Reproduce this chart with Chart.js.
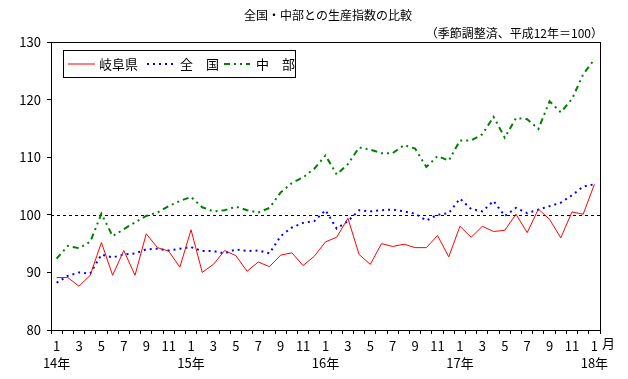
<!DOCTYPE html>
<html><head><meta charset="utf-8">
<script src="https://cdn.jsdelivr.net/npm/chart.js@4/dist/chart.umd.min.js"></script>
<style>html,body{margin:0;padding:0;background:#fff}#wrap{width:628px;height:379px}</style>
</head><body><div id="wrap"><canvas id="c" width="628" height="379"></canvas></div>
<script>
const TITLE = '全国・中部との生産指数の比較';
const SUBTITLE = '（季節調整済、平成12年＝100）';
const months = [1,2,3,4,5,6,7,8,9,10,11,12,1,2,3,4,5,6,7,8,9,10,11,12,1,2,3,4,5,6,7,8,9,10,11,12,1,2,3,4,5,6,7,8,9,10,11,12,1];
const years = ['14年','15年','16年','17年','18年'];
const seriesNames = ['岐阜県','全　国','中　部'];
const gifu = [89.1,89.1,87.6,89.5,95.2,89.5,93.8,89.5,96.7,94.3,93.7,90.9,97.4,90.0,91.4,93.8,92.9,90.2,91.8,91.0,93.0,93.4,91.2,92.8,95.3,96.1,99.4,93.1,91.4,95.0,94.5,94.9,94.3,94.3,96.4,92.7,98.0,96.1,98.0,97.1,97.3,100.1,96.9,101.0,99.2,96.0,100.5,100.1,105.3];
const zenkoku = [88.2,89.4,90.0,89.8,93.1,92.6,93.1,93.3,94.0,94.1,93.8,94.1,94.4,93.7,93.7,93.3,94.0,93.7,93.8,93.3,96.3,97.8,98.6,98.9,100.8,97.6,98.9,100.8,100.6,100.8,100.9,100.6,100.2,99.0,100.0,100.3,102.8,101.0,100.6,102.4,99.8,101.2,100.3,100.9,101.5,102.1,103.4,104.9,105.3];
const chubu = [92.4,94.6,94.2,95.3,100.2,96.3,97.5,98.7,99.8,100.4,101.5,102.4,103.1,101.3,100.6,100.8,101.4,100.8,100.4,101.2,103.9,105.5,106.5,108.0,110.3,107.0,108.8,111.7,111.3,110.7,110.7,112.1,111.5,108.3,110.2,109.4,112.9,112.9,114.0,117.0,113.4,116.8,116.6,114.9,119.7,117.8,120.1,124.4,127.0];
const BASE = 100;
const yTicks = [80,90,100,110,120,130];

const FONT = '"Noto Sans CJK JP", "Noto Sans", sans-serif';
const labels = months.map((m,i)=>String(i));
let yearIdx = 0;
const yearAt = months.map(m => m===1 ? years[yearIdx++] : '');

const styles = [
  {color:'#ff0000', width:1, dash:[]},
  {color:'#0000ff', width:2, dash:[2,4]},
  {color:'#008000', width:2, dash:[6,4,2,4,2,4]}
];
const data = [gifu, zenkoku, chubu];

const deco = {
  id:'deco',
  beforeDatasetsDraw(chart){
    const ctx = chart.ctx, a = chart.chartArea, y = chart.scales.y.getPixelForValue(BASE);
    ctx.save();
    ctx.strokeStyle = '#000'; ctx.lineWidth = 1; ctx.setLineDash([3,3]);
    ctx.beginPath(); ctx.moveTo(a.left, Math.round(y)+0.5); ctx.lineTo(a.right, Math.round(y)+0.5); ctx.stroke();
    ctx.restore();
  },
  afterDraw(chart){
    const ctx = chart.ctx, a = chart.chartArea;
    ctx.save();
    ctx.strokeStyle = '#000'; ctx.lineWidth = 1; ctx.setLineDash([]);
    ctx.strokeRect(Math.round(a.left)+0.5, Math.round(a.top)+0.5, Math.round(a.right-a.left), Math.round(a.bottom-a.top));
    ctx.fillStyle = '#000';
    ctx.font = '12px ' + FONT;
    ctx.textBaseline = 'middle';
    ctx.textAlign = 'center';
    ctx.fillText(TITLE, 328, 15);
    ctx.textAlign = 'right';
    ctx.fillText(SUBTITLE, 603, 33);
    ctx.textAlign = 'left';
    ctx.font = '13px ' + FONT;
    ctx.fillText('月', 602, 343);
    // legend
    ctx.strokeRect(63.5, 50.5, 232, 27);
    const items = [[68,95,99],[147,175,180],[224,250,256]];
    items.forEach((it,i)=>{
      const s = styles[i];
      ctx.strokeStyle = s.color; ctx.lineWidth = s.width; ctx.setLineDash(s.dash);
      ctx.beginPath(); ctx.moveTo(it[0], 64); ctx.lineTo(it[1], 64); ctx.stroke();
      ctx.fillStyle = '#000';
      ctx.fillText(seriesNames[i], it[2], 64);
    });
    ctx.restore();
  }
};

new Chart(document.getElementById('c'), {
  type:'line',
  data:{
    labels: labels,
    datasets: data.map((d,i)=>({
      label: seriesNames[i], data: d,
      borderColor: styles[i].color, borderWidth: styles[i].width, borderDash: styles[i].dash,
      pointRadius:0, tension:0, fill:false
    }))
  },
  options:{
    responsive:false, animation:false, devicePixelRatio:1,
    layout:{padding:{top:42, right:28, left:0, bottom:0}},
    plugins:{legend:{display:false}, tooltip:{enabled:false}, title:{display:false}},
    scales:{
      x:{
        type:'category', offset:true,
        grid:{offset:true, drawOnChartArea:false, drawTicks:true, tickLength:4, color:'#000'},
        border:{color:'#000', width:1},
        afterFit(s){ s.height = 49; },
        ticks:{
          autoSkip:false, maxRotation:0, minRotation:0, padding:4, color:'#000',
          font:{family:FONT, size:13, lineHeight:1.3},
          callback(v, idx){
            const m = months[idx];
            if (m % 2 === 0) return '';
            return yearAt[idx] ? [String(m), yearAt[idx]] : String(m);
          }
        }
      },
      y:{
        min:80, max:130,
        afterBuildTicks(s){ s.ticks = yTicks.map(v=>({value:v})); },
        afterFit(s){ s.width = 51; },
        grid:{drawOnChartArea:false, drawTicks:true, tickLength:4, color:'#000'},
        border:{color:'#000', width:1},
        ticks:{color:'#000', padding:6, font:{family:FONT, size:13}}
      }
    }
  },
  plugins:[deco]
});
</script></body></html>
